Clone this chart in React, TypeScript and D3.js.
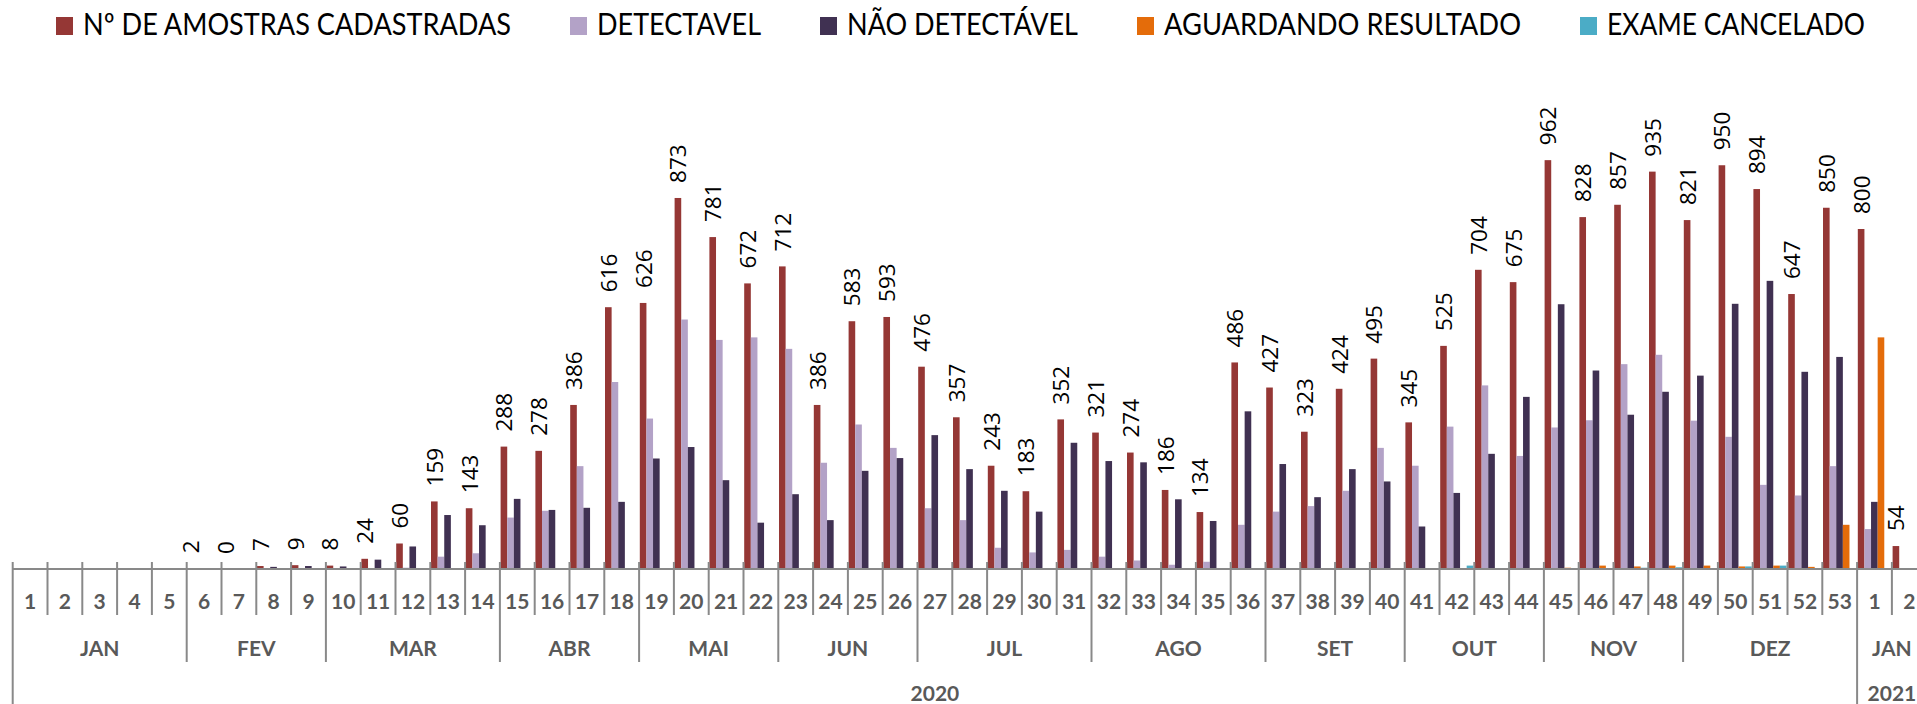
import React from 'react';
import * as d3 from 'd3';

// week labels: 53 weeks of 2020, then 2 weeks of 2021
const weekLabels = [
  '1', '2', '3', '4', '5', '6', '7', '8', '9', '10', '11', '12', '13', '14', '15', '16', '17', '18',
  '19', '20', '21', '22', '23', '24', '25', '26', '27', '28', '29', '30', '31', '32', '33', '34', '35',
  '36', '37', '38', '39', '40', '41', '42', '43', '44', '45', '46', '47', '48', '49', '50', '51', '52',
  '53', '1', '2'
];

const monthLabels = ['JAN', 'FEV', 'MAR', 'ABR', 'MAI', 'JUN', 'JUL', 'AGO', 'SET', 'OUT', 'NOV', 'DEZ', 'JAN'];
const monthWeeks = [5, 4, 5, 4, 4, 4, 5, 5, 4, 4, 4, 5, 2];

const yearLabels = ['2020', '2021'];
const yearWeeks = [53, 2];

const cadastradas = [
  null, null, null, null, null, 2, 0, 7, 9, 8, 24, 60, 159, 143, 288, 278, 386, 616,
  626, 873, 781, 672, 712, 386, 583, 593, 476, 357, 243, 183, 352, 321, 274, 186, 134,
  486, 427, 323, 424, 495, 345, 525, 704, 675, 962, 828, 857, 935, 821, 950, 894, 647,
  850, 800, 54
];

const detectavel = [
  0, 0, 0, 0, 0, 0, 0, 0, 0, 0, 0, 3, 29, 37, 121, 137, 242, 440,
  354, 587, 539, 545, 518, 250, 340, 285, 143, 115, 50, 39, 45, 29, 20, 10, 17,
  104, 135, 148, 184, 285, 243, 335, 432, 266, 333, 350, 482, 504, 349, 311, 198, 173,
  242, 94, 0
];

const naoDetectavel = [
  0, 0, 0, 0, 0, 0, 0, 5, 7, 6, 22, 53, 127, 103, 165, 139, 144, 158,
  260, 287, 209, 109, 176, 115, 231, 261, 315, 235, 184, 135, 297, 254, 251, 164, 113,
  371, 247, 169, 235, 206, 100, 179, 271, 405, 623, 467, 363, 417, 455, 624, 678, 464,
  499, 158, 0
];

const aguardando = [
  0, 0, 0, 0, 0, 0, 0, 0, 0, 0, 0, 0, 0, 0, 0, 0, 0, 0,
  0, 0, 0, 0, 0, 0, 0, 0, 0, 0, 0, 0, 0, 0, 0, 0, 0,
  0, 0, 0, 0, 0, 0, 0, 0, 0, 3, 8, 6, 8, 8, 6, 8, 5,
  104, 545, 0
];

const cancelado = [
  0, 0, 0, 0, 0, 0, 0, 0, 0, 0, 0, 0, 0, 0, 0, 0, 0, 0,
  0, 0, 0, 0, 0, 0, 0, 0, 0, 0, 0, 0, 0, 0, 0, 0, 0,
  0, 0, 0, 0, 0, 0, 8, 0, 0, 1, 0, 3, 4, 2, 6, 8, 0,
  2, 0, 0
];

const seriesNames = [
  'Nº DE AMOSTRAS CADASTRADAS',
  'DETECTAVEL',
  'NÃO DETECTÁVEL',
  'AGUARDANDO RESULTADO',
  'EXAME CANCELADO'
];
const seriesValues = [cadastradas, detectavel, naoDetectavel, aguardando, cancelado];
const seriesColors = ['#953735', '#b3a2c7', '#403152', '#e46c0a', '#4bacc6'];

// legend text widths (the original font is narrow)
const legendTextWidths = [428, 164, 231, 357, 258];

const W = 1917;
const H = 704;
const baseY = 569;
const axisColor = '#898989';
const labelColor = '#595959';

const App = () => {
  const step = 34.8;
  const left = 12.7;

  const x = d3.scaleBand<number>()
    .domain(d3.range(weekLabels.length))
    .range([left, left + step * weekLabels.length]);

  const inner = d3.scaleBand<number>()
    .domain(d3.range(seriesNames.length))
    .range([0.7, x.bandwidth() - 1]);

  const y = d3.scaleLinear().domain([0, 1000]).range([baseY, baseY - 425]);

  // boundaries between categories
  const monthStarts = d3.cumsum([0, ...monthWeeks]);
  const yearStarts = d3.cumsum([0, ...yearWeeks]);
  const boundaryBottom = (i: number) => {
    if (yearStarts.includes(i)) return H;
    if (monthStarts.includes(i)) return 662;
    return 615;
  };
  const edge = (i: number) => (i < weekLabels.length ? x(i)! : x.range()[1]);

  // legend layout
  let lx = 56;
  const legendItems = seriesNames.map((name, i) => {
    const item = { name, color: seriesColors[i], x: lx, tw: legendTextWidths[i] };
    lx += 27 + legendTextWidths[i] + 59;
    return item;
  });

  return (
    <svg width={W} height={H} style={{ position: 'absolute', left: 0, top: 0, background: '#fff' }}>
      {/* legend */}
      <g>
        {legendItems.map((d) => (
          <g key={d.name}>
            <rect x={d.x} y={17} width={17} height={18} fill={d.color} />
            <text
              x={d.x + 27}
              y={35}
              fontFamily="Lato, sans-serif"
              fontSize={31}
              fill="#000"
              textLength={d.tw}
              lengthAdjust="spacingAndGlyphs"
            >
              {d.name}
            </text>
          </g>
        ))}
      </g>

      {/* bars */}
      <g>
        {seriesValues.map((vals, s) => (
          <g key={s} fill={seriesColors[s]}>
            {vals.map((v, i) =>
              v == null || v === 0 ? null : (
                <rect
                  key={i}
                  x={x(i)! + inner(s)!}
                  y={y(v)}
                  width={inner.bandwidth()}
                  height={baseY - y(v)}
                />
              )
            )}
          </g>
        ))}
      </g>

      {/* value labels on first series */}
      <g fontFamily="'Open Sans', sans-serif" fontSize={22.5} fill="#000">
        {cadastradas.map((v, i) => {
          if (v == null) return null;
          const cx = x(i)! + inner(0)! + inner.bandwidth() / 2;
          const ty = y(v) - 15;
          return (
            <text key={i} transform={`translate(${cx},${ty}) rotate(-90)`} dominantBaseline="central">
              {v}
            </text>
          );
        })}
      </g>

      {/* category axis */}
      <g stroke={axisColor} strokeWidth={2}>
        <line x1={left} x2={W} y1={baseY} y2={baseY} />
        {d3.range(weekLabels.length + 1).map((i) => (
          <line key={i} x1={edge(i)} x2={edge(i)} y1={baseY - 7} y2={boundaryBottom(i)} />
        ))}
      </g>

      <g fontFamily="Lato, sans-serif" fontWeight="bold" fontSize={21} fill={labelColor} textAnchor="middle">
        {weekLabels.map((w, i) => (
          <text key={i} x={x(i)! + x.bandwidth() / 2} y={600} dominantBaseline="central">
            {w}
          </text>
        ))}
        {monthLabels.map((m, i) => {
          const a = edge(monthStarts[i]);
          const b = edge(monthStarts[i + 1]);
          return (
            <text key={i} x={(a + b) / 2} y={647} dominantBaseline="central">
              {m}
            </text>
          );
        })}
        {yearLabels.map((yl, i) => {
          const a = edge(yearStarts[i]);
          const b = edge(yearStarts[i + 1]);
          return (
            <text key={i} x={(a + b) / 2} y={692} dominantBaseline="central">
              {yl}
            </text>
          );
        })}
      </g>
    </svg>
  );
};

export default App;
